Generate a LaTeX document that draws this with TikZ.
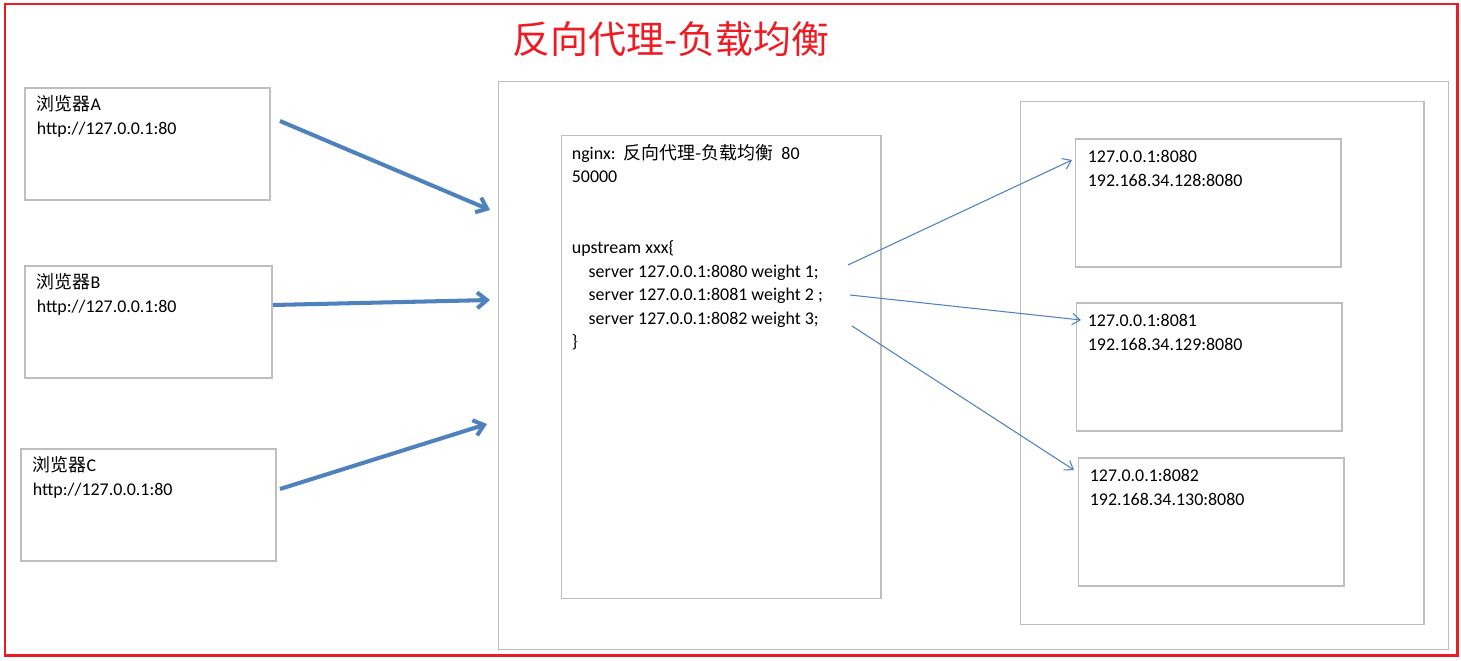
\documentclass[tikz,border=0pt]{standalone}
\usepackage{fontspec}
\setmainfont{Carlito}
\newfontfamily\cjk{Noto Sans CJK SC}
\usetikzlibrary{arrows.meta}
\definecolor{framered}{RGB}{237,28,36}
\definecolor{boxgray}{RGB}{190,190,190}
\definecolor{arrowblue}{RGB}{79,129,189}
\def\browsertext#1{{\cjk 浏览器}#1\\http://127.0.0.1:80}
\def\servertext#1#2{127.0.0.1:#1\\192.168.34.#2:8080}

\begin{document}
\begin{tikzpicture}[x=0.02cm,y=-0.02cm,
	box/.style={draw=boxgray,line width=0.6pt,inner sep=0pt},
	txt/.style={anchor=north west,align=left,inner sep=0pt,font=\fontsize{10.2}{13.4}\selectfont,
		execute at begin node={\rule{0pt}{10pt}}},
	fat/.style={arrowblue,line width=2.3pt,-{Straight Barb[length=5.5pt,width=9pt]}},
	thin/.style={arrowblue,line width=0.6pt,-{Straight Barb[length=4.5pt,width=6.5pt]}}]
\useasboundingbox (0,0) rectangle (1461,660);
\draw[framered,line width=1.7pt] (5,4) rectangle (1457,655);
\node[anchor=base west,inner sep=0pt,text=framered,font=\cjk\fontsize{21.6}{21.6}\selectfont] (title) at (512,53) {反向代理-负载均衡};
% browsers
\node[box,minimum width=4.9cm,minimum height=2.24cm] (brA) at (147.5,144) {};
\node[box,minimum width=4.94cm,minimum height=2.24cm] (brB) at (148.5,322) {};
\node[box,minimum width=5.1cm,minimum height=2.24cm] (brC) at (148.5,505) {};
\node[txt] at ([shift={(12,8)}]brA.north west) {\browsertext{A}};
\node[txt] at ([shift={(12,8)}]brB.north west) {\browsertext{B}};
\node[txt] at ([shift={(12,8)}]brC.north west) {\browsertext{C}};
% nginx and servers
\node[box,minimum width=19.02cm,minimum height=11.38cm] (proxy) at (973.5,365.5) {};
\node[box,minimum width=6.4cm,minimum height=9.28cm] (nginx) at (721,367) {};
\node[txt] at ([shift={(11,9.4)}]nginx.north west) {nginx:\ \ {\cjk 反向代理-负载均衡}\ \ 80\\50000\\\mbox{}\\\mbox{}\\upstream xxx\{\\
	\hspace*{9.6pt}server 127.0.0.1:8080 weight 1;\\
	\hspace*{9.6pt}server 127.0.0.1:8081 weight 2 ;\\
	\hspace*{9.6pt}server 127.0.0.1:8082 weight 3;\\\}};
\node[box,minimum width=8.08cm,minimum height=10.48cm] (group) at (1222,363) {};
\node[box,minimum width=5.32cm,minimum height=2.56cm] (srvA) at (1208,203) {};
\node[box,minimum width=5.32cm,minimum height=2.56cm] (srvB) at (1209,367) {};
\node[box,minimum width=5.32cm,minimum height=2.56cm] (srvC) at (1211,522) {};
\node[txt] at ([shift={(13,11.4)}]srvA.north west) {\servertext{8080}{128}};
\node[txt] at ([shift={(12,11.4)}]srvB.north west) {\servertext{8081}{129}};
\node[txt] at ([shift={(12,11.4)}]srvC.north west) {\servertext{8082}{130}};
% arrow ends
\coordinate (outA) at (280,121);
\coordinate (outB) at (273,305);
\coordinate (outC) at (280,489);
\coordinate (inA) at (490,210);
\coordinate (inB) at (490,300);
\coordinate (inC) at (487,424);
\coordinate (upA) at (848,265);
\coordinate (upB) at (850,295);
\coordinate (upC) at (852,326);
\coordinate (toA) at (1072,160);
\coordinate (toB) at (1081,320);
\coordinate (toC) at (1074,470);
\draw[fat] (outA) -- (inA);
\draw[fat] (outB) -- (inB);
\draw[fat] (outC) -- (inC);
\draw[thin] (upA) -- (toA);
\draw[thin] (upB) -- (toB);
\draw[thin] (upC) -- (toC);
\end{tikzpicture}
\end{document}
